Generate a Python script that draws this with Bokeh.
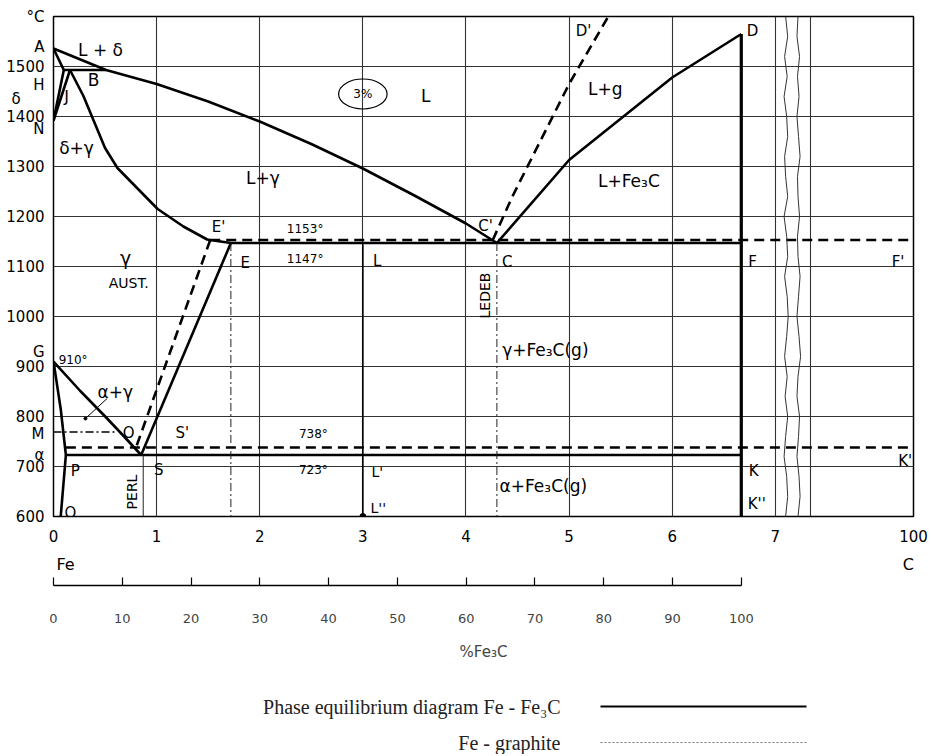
import math
from bokeh.plotting import figure
from bokeh.models import Range1d, LinearAxis, FixedTicker, Label
from bokeh.layouts import column
from bokeh.embed import file_html
from bokeh.resources import INLINE
from bokeh.core.properties import value

# ---------------- data (wt% C, degrees C) ----------------
C_FE3C = 6.67          # wt% C of cementite (= 100 % Fe3C)
X_END = 8.34           # plot position standing for 100 % C (after the break)
X_AFTER_BREAK = 7.34

liq_c = [0.0, 0.51, 1.0, 1.5, 2.0, 2.5, 3.0, 3.5, 4.0, 4.3]
liq_t = [1536, 1493, 1465, 1430, 1390, 1345, 1296, 1242, 1186, 1147]

cem_liq_c = [4.3, 5.0, 6.0, 6.67]
cem_liq_t = [1147, 1313, 1478, 1565]

gra_liq_c = [4.26, 4.45, 5.0, 5.38]
gra_liq_t = [1153, 1240, 1465, 1600]

sol_c = [0.16, 0.29, 0.50, 0.62, 1.01, 1.26, 1.49, 1.52, 1.72]
sol_t = [1493, 1441, 1337, 1297, 1215, 1180, 1154, 1153, 1147]

ah_c, ah_t = [0.0, 0.10], [1536, 1493]
nh_c, nh_t = [0.0, 0.10], [1392, 1493]
nj_c, nj_t = [0.0, 0.16], [1392, 1493]
hb_c, hb_t = [0.10, 0.51], [1493, 1493]

gs_c = [0.0, 0.26, 0.52, 0.68, 0.85]
gs_t = [910, 851, 796, 761, 723]
gp_c, gp_t = [0.0, 0.07, 0.12], [910, 815, 723]
pq_c, pq_t = [0.12, 0.07], [723, 600]

es_c, es_t = [1.72, 0.85], [1147, 723]
es_g_c, es_g_t = [1.52, 0.80], [1153, 738]

eut_c, eut_t = [1.72, 6.67], [1147, 1147]
eut_g_c, eut_g_t = [1.52, X_END], [1153, 1153]
eud_c, eud_t = [0.12, 6.67], [723, 723]
eud_g_c, eud_g_t = [0.12, X_END], [738, 738]
cem_c, cem_t = [6.67, 6.67], [1565, 600]
mo_c, mo_t = [0.0, 0.62], [769, 769]

s_vert_c, s_vert_t = [0.87, 0.87], [723, 600]
e_vert_c, e_vert_t = [1.72, 1.72], [1147, 600]
c_vert_c, c_vert_t = [4.3, 4.3], [1147, 600]
l_vert_c, l_vert_t = [3.0, 3.0], [1147, 600]
dot_c, dot_t = [3.0], [600]

lead_c, lead_t = [0.52, 0.31], [836, 796]

wave_t = [1600, 1560, 1520, 1480, 1440, 1400, 1360, 1320, 1280, 1240, 1200, 1160, 1120,
          1080, 1040, 1000, 960, 920, 880, 840, 800, 760, 720, 680, 640, 600]
wave1_c = [7.10, 7.12, 7.09, 7.115, 7.085, 7.11, 7.12, 7.09, 7.10, 7.12, 7.085, 7.11, 7.12,
           7.09, 7.115, 7.125, 7.11, 7.09, 7.115, 7.095, 7.12, 7.10, 7.085, 7.11, 7.12, 7.10]
wave2_c = [7.22, 7.21, 7.235, 7.215, 7.23, 7.21, 7.225, 7.24, 7.215, 7.22, 7.235, 7.215, 7.22,
           7.24, 7.225, 7.21, 7.23, 7.245, 7.22, 7.21, 7.235, 7.225, 7.21, 7.23, 7.24, 7.22]

# axis ticks and their texts
x_ticks = [0, 1, 2, 3, 4, 5, 6, 7, X_END]
x_tick_labels = {X_END: "100"}
x_name_ticks = [0.116, 8.29]
x_name_labels = {0.116: "Fe", 8.29: "C"}
x_grid = [1, 2, 3, 4, 5, 6, 7, X_AFTER_BREAK]
y_ticks = [600, 700, 800, 900, 1000, 1100, 1200, 1300, 1400, 1500]
# point letters written at the temperature axis
y_point_ticks = [1600, 1539, 1464, 1435, 1376, 930, 765, 724]
y_point_labels = {1600: "°C", 1539: "A", 1464: "H", 1435: "δ\u00a0\u00a0\u00a0\u00a0\u00a0",
                  1376: "N", 930: "G", 765: "M", 724: "α"}
fe3c_ticks = [0, 10, 20, 30, 40, 50, 60, 70, 80, 90, 100]

# labels inside the diagram: text, x (%C), y (degC), font size px
lab_text = ["L + δ", "B", "J", "δ+γ", "3%", "L", "L+g", "D'", "D", "L+γ", "L+Fe₃C",
            "E'", "1153°", "C'", "E", "1147°", "L", "C", "F", "F'", "γ", "AUST.",
            "LEDEB", "γ+Fe₃C(g)", "910°", "α+γ", "O", "S'", "738°", "P", "S", "723°",
            "L'", "K", "K'", "α+Fe₃C(g)", "Q", "PERL", "L''", "K''"]
lab_x = [0.456, 0.388, 0.126, 0.223, 3.0, 3.61, 5.35, 5.14, 6.78, 2.03, 5.58,
         1.60, 2.44, 4.19, 1.86, 2.44, 3.14, 4.40, 6.78, 8.19, 0.70, 0.73,
         4.18, 4.77, 0.19, 0.60, 0.73, 1.25, 2.52, 0.21, 1.02, 2.52,
         3.14, 6.79, 8.26, 4.75, 0.165, 0.757, 3.15, 6.82]
lab_y = [1533, 1474, 1441, 1337, 1445, 1441, 1455, 1572, 1572, 1278, 1272,
         1180, 1176, 1182, 1107, 1115, 1111, 1109, 1109, 1109, 1117, 1068,
         1042, 934, 914, 850, 767, 767, 765, 692, 694, 694,
         690, 692, 712, 661, 608, 649, 618, 626]
lab_size = [17, 17, 16, 17, 12, 17, 17, 15, 15, 17, 17,
            15, 12, 15, 15, 12, 15, 15, 15, 15, 19, 14,
            14, 17, 12, 17, 15, 15, 12, 15, 15, 12,
            14, 15, 15, 17, 15, 14, 14, 15]
lab_rot = ["LEDEB", "PERL"]

# legend
leg_text = ["Phase equilibrium diagram Fe - Fe₃C", "Fe - graphite"]

FONT = "DejaVu Sans"
W = 929
LEFT, RIGHT = 53, 16

# ---------------- main diagram ----------------
p = figure(width=W, height=576, x_range=Range1d(0, X_END), y_range=Range1d(600, 1600),
           output_backend="svg", toolbar_location=None,
           min_border_left=LEFT, min_border_right=RIGHT, min_border_top=16, min_border_bottom=51)
p.outline_line_color = "black"
p.outline_line_width = 1.5
p.background_fill_color = "white"

p.xgrid.ticker = FixedTicker(ticks=x_grid)
p.ygrid.ticker = FixedTicker(ticks=y_ticks[1:])
for g in (p.xgrid, p.ygrid):
    g.grid_line_color = "#333333"
    g.grid_line_width = 1.1

p.xaxis.ticker = FixedTicker(ticks=x_ticks)
p.xaxis.major_label_overrides = x_tick_labels
p.yaxis.ticker = FixedTicker(ticks=y_ticks + y_point_ticks)
p.yaxis.major_label_overrides = y_point_labels
for ax in (p.xaxis, p.yaxis):
    ax.axis_line_color = None
    ax.major_tick_line_color = None
    ax.minor_tick_line_color = None
    ax.major_label_text_font = FONT
    ax.major_label_text_font_size = "15px"
    ax.major_label_text_color = "black"
p.xaxis.major_label_standoff = 7
p.yaxis.major_label_standoff = 3

name_axis = LinearAxis(ticker=FixedTicker(ticks=x_name_ticks),
                       major_label_overrides=x_name_labels,
                       axis_line_color=None, major_tick_line_color=None,
                       minor_tick_line_color=None, major_label_standoff=4)
name_axis.major_label_text_font = FONT
name_axis.major_label_text_font_size = "16px"
name_axis.major_label_text_color = "black"
p.add_layout(name_axis, "below")

BW = 2.6
def solid(c, t, w=BW):
    p.line(c, t, line_color="black", line_width=w)

def dashed(c, t, w=BW):
    p.line(c, t, line_color="black", line_width=w, line_dash="10 6")

solid(liq_c, liq_t)
solid(cem_liq_c, cem_liq_t)
dashed(gra_liq_c, gra_liq_t)
solid(sol_c, sol_t)
solid(ah_c, ah_t)
solid(nh_c, nh_t)
solid(nj_c, nj_t)
solid(hb_c, hb_t)
solid(gs_c, gs_t)
solid(gp_c, gp_t)
solid(pq_c, pq_t)
solid(es_c, es_t)
dashed(es_g_c, es_g_t)
solid(eut_c, eut_t)
dashed(eut_g_c, eut_g_t)
solid(eud_c, eud_t)
dashed(eud_g_c, eud_g_t)
solid(cem_c, cem_t, 3.2)
p.line(mo_c, mo_t, line_color="black", line_width=1.6, line_dash="8 3 2 3")

p.line(s_vert_c, s_vert_t, line_color="#222", line_width=1)
p.line(e_vert_c, e_vert_t, line_color="#222", line_width=1, line_dash="8 3 2 3")
p.line(c_vert_c, c_vert_t, line_color="#222", line_width=1, line_dash="8 3 2 3")
p.line(l_vert_c, l_vert_t, line_color="black", line_width=1.6)
p.scatter(dot_c, dot_t, size=6, color="black")

p.line(lead_c, lead_t, line_color="black", line_width=1)
p.scatter(lead_c[1:], lead_t[1:], size=3, color="black")

p.ellipse(x=[3.0], y=[1445], width=[0.47], height=[60], fill_color=None,
          line_color="black", line_width=1.2)

p.line(wave1_c, wave_t, line_color="#333", line_width=1)
p.line(wave2_c, wave_t, line_color="#333", line_width=1)

for t, x, y, s in zip(lab_text, lab_x, lab_y, lab_size):
    ang = math.pi / 2 if t in lab_rot else 0
    p.add_layout(Label(x=x, y=y, text=t, text_font=FONT, text_font_size=f"{s}px",
                       text_align="center", text_baseline="middle", angle=ang,
                       text_color="black"))

# ---------------- Fe3C scale ----------------
p2 = figure(width=W, height=99, x_range=Range1d(0, 100 * X_END / C_FE3C), y_range=Range1d(0, 1),
            x_axis_location=None, y_axis_location=None, output_backend="svg",
            toolbar_location=None, min_border_left=LEFT, min_border_right=RIGHT,
            min_border_top=0, min_border_bottom=90)
p2.outline_line_color = None
p2.grid.visible = False
ax2 = LinearAxis(ticker=FixedTicker(ticks=fe3c_ticks), bounds=(0, 100),
                 major_tick_in=8, major_tick_out=0, minor_tick_line_color=None,
                 major_label_standoff=28, axis_label="%Fe₃C", axis_label_standoff=17)
ax2.axis_line_width = 1.5
ax2.major_tick_line_width = 1.2
ax2.major_label_text_font = FONT
ax2.major_label_text_font_size = "13px"
ax2.axis_label_text_font = FONT
ax2.axis_label_text_font_size = "15px"
ax2.axis_label_text_font_style = "normal"
p2.add_layout(ax2, "below")

# ---------------- legend strip (x in page pixels) ----------------
p3 = figure(width=W, height=79, x_range=Range1d(LEFT, W - RIGHT), y_range=Range1d(79, 0),
            x_axis_location=None, y_axis_location=None, output_backend="svg",
            toolbar_location=None, min_border_left=LEFT, min_border_right=RIGHT,
            min_border_top=0, min_border_bottom=0)
p3.outline_line_color = None
p3.grid.visible = False
p3.text(x=[560, 560], y=[31, 67], text=leg_text, text_align="right", text_baseline="middle",
        text_font=value("Liberation Serif"), text_font_size=value("20px"), text_color="#222")
p3.line([600, 806], [31, 31], line_color="black", line_width=2)
p3.line([600, 806], [67, 67], line_color="#777", line_width=1, line_dash="2 2")

layout = column(p, p2, p3)
open("out.html", "w").write(file_html(layout, INLINE))
